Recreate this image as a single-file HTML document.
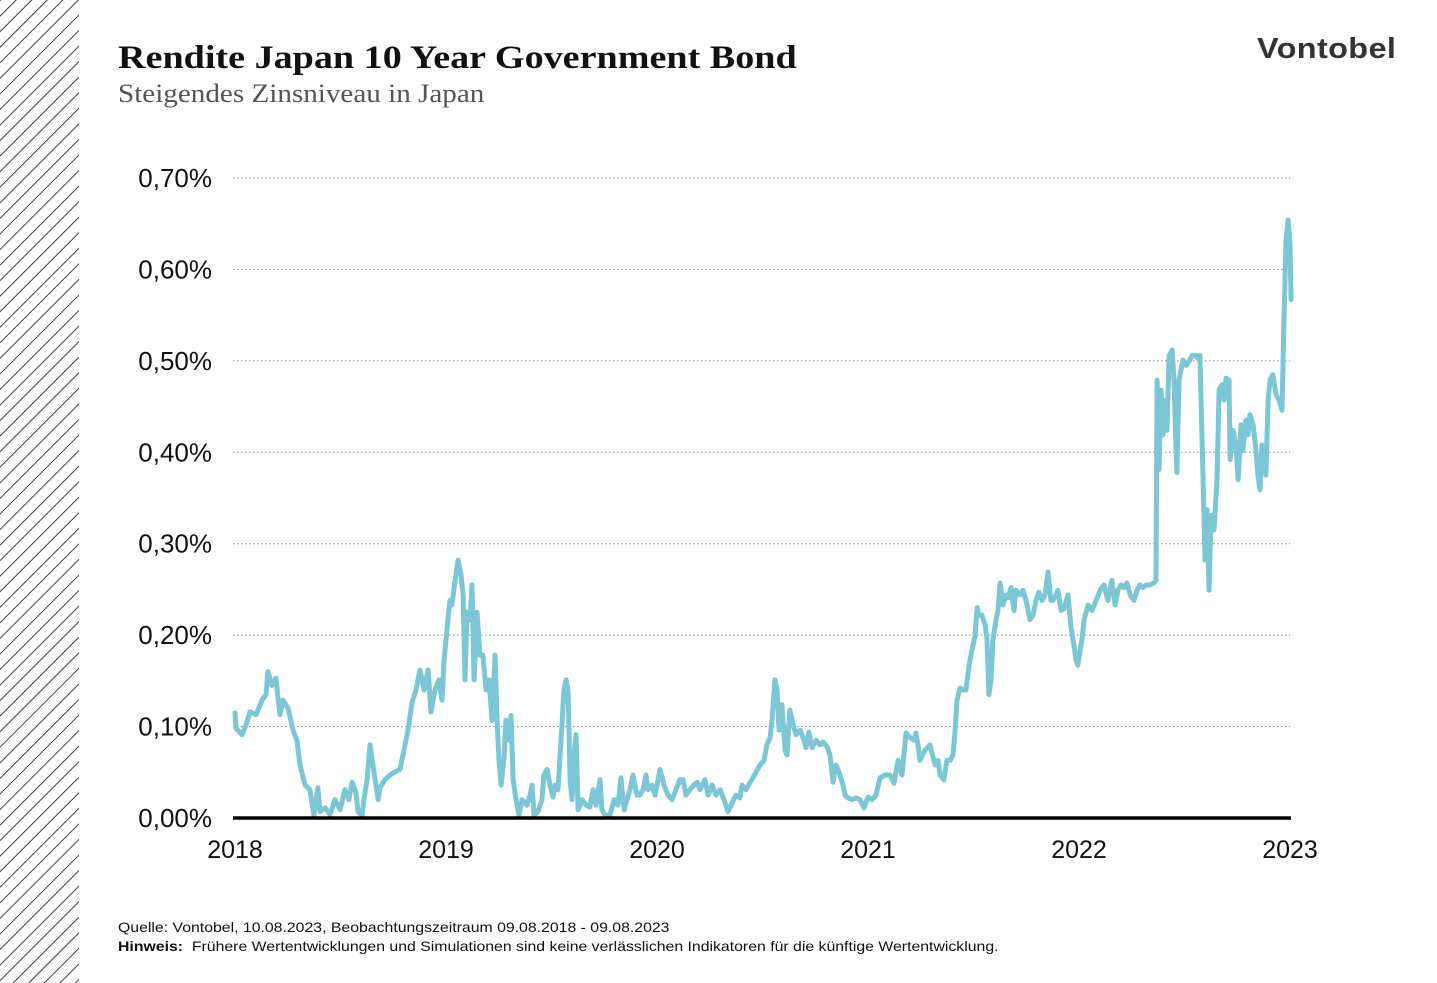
<!DOCTYPE html>
<html><head><meta charset="utf-8"><style>
html,body{margin:0;padding:0;background:#fff;}
body{width:1437px;height:983px;position:relative;overflow:hidden;font-family:"Liberation Sans",sans-serif;}
.abs{position:absolute;white-space:nowrap;}
</style></head><body>
<svg class="abs" style="left:0;top:0" width="80" height="983">
<defs><pattern id="h" width="11" height="11" patternUnits="userSpaceOnUse" patternTransform="rotate(45)"><line x1="0" y1="0" x2="0" y2="11" stroke="#111" stroke-width="1.6"/></pattern></defs>
<rect x="0" y="0" width="79" height="983" fill="url(#h)"/></svg>
<div class="abs" style="left:118px;top:40px;font-family:'Liberation Serif',serif;font-weight:bold;font-size:33px;color:#111;transform:scaleX(1.155);transform-origin:0 0;">Rendite Japan 10 Year Government Bond</div>
<div class="abs" style="left:118px;top:79px;font-family:'Liberation Serif',serif;font-size:26px;color:#555;transform:scaleX(1.12);transform-origin:0 0;">Steigendes Zinsniveau in Japan</div>
<div class="abs" style="left:1257px;top:33px;font-weight:bold;font-size:29px;color:#333;letter-spacing:0.3px;transform:scaleX(1.12);transform-origin:0 0;">Vontobel</div>
<svg class="abs" id="chart" style="left:0;top:0" width="1437" height="983"></svg>
<div class="abs" style="left:118px;top:919px;font-size:14px;color:#111;transform:scaleX(1.13);transform-origin:0 0;">Quelle: Vontobel, 10.08.2023, Beobachtungszeitraum 09.08.2018 - 09.08.2023</div>
<div class="abs" style="left:118px;top:938px;font-size:14px;color:#111;transform:scaleX(1.13);transform-origin:0 0;"><b>Hinweis:</b>&nbsp; Frühere Wertentwicklungen und Simulationen sind keine verlässlichen Indikatoren für die künftige Wertentwicklung.</div>
<script>
const yTicks=[0,0.1,0.2,0.3,0.4,0.5,0.6,0.7];
const yTickLabels=["0,00%","0,10%","0,20%","0,30%","0,40%","0,50%","0,60%","0,70%"];
const xTicks=[2018,2019,2020,2021,2022,2023];
const xTickLabels=["2018","2019","2020","2021","2022","2023"];
const dates=[
2018.000,2018.005,2018.033,2018.052,2018.071,2018.100,2018.128,2018.147,2018.156,2018.175,2018.194,2018.213,2018.227,2018.251,2018.275,2018.294,2018.308,2018.332,2018.355,2018.374,2018.393,2018.403,2018.427,2018.450,2018.474,2018.498,2018.521,2018.540,2018.555,2018.573,2018.583,2018.602,2018.611,2018.626,2018.640,2018.664,2018.678,2018.687,2018.711,2018.735,2018.754,2018.782,2018.801,2018.820,2018.839,2018.858,2018.877,2018.896,2018.915,2018.929,2018.948,2018.967,2018.981,2018.991,2019.000,
2019.009,2019.019,2019.028,2019.043,2019.057,2019.071,2019.081,2019.090,2019.100,2019.114,2019.123,2019.133,2019.147,2019.161,2019.175,2019.190,2019.204,2019.218,2019.232,2019.242,2019.251,2019.261,2019.275,2019.284,2019.299,2019.308,2019.318,2019.332,2019.346,2019.360,2019.384,2019.398,2019.408,2019.417,2019.436,2019.455,2019.464,2019.479,2019.493,2019.507,2019.517,2019.531,2019.550,2019.559,2019.569,2019.578,2019.588,2019.597,2019.607,2019.616,2019.626,2019.645,2019.664,2019.682,2019.697,2019.711,2019.730,2019.739,2019.754,2019.777,2019.796,2019.815,2019.829,2019.844,2019.858,2019.872,2019.886,2019.905,2019.919,2019.934,2019.948,2019.957,2019.976,2019.991,
2020.014,2020.033,2020.052,2020.071,2020.090,2020.109,2020.123,2020.137,2020.156,2020.175,2020.190,2020.204,2020.227,2020.242,2020.261,2020.280,2020.299,2020.318,2020.336,2020.355,2020.374,2020.393,2020.403,2020.422,2020.441,2020.455,2020.469,2020.488,2020.507,2020.521,2020.536,2020.545,2020.559,2020.569,2020.578,2020.592,2020.607,2020.616,2020.630,2020.645,2020.659,2020.678,2020.697,2020.706,2020.720,2020.735,2020.754,2020.773,2020.787,2020.806,2020.820,2020.834,2020.848,2020.858,2020.882,2020.891,2020.905,2020.924,2020.943,2020.962,2020.981,2021.000,
2021.019,2021.038,2021.057,2021.081,2021.104,2021.123,2021.142,2021.161,2021.180,2021.199,2021.218,2021.227,2021.237,2021.246,2021.270,2021.294,2021.318,2021.332,2021.341,2021.360,2021.374,2021.389,2021.403,2021.412,2021.422,2021.436,2021.450,2021.464,2021.479,2021.493,2021.507,2021.517,2021.526,2021.540,2021.555,2021.564,2021.573,2021.583,2021.592,2021.607,2021.616,2021.626,2021.640,2021.654,2021.664,2021.678,2021.692,2021.701,2021.720,2021.735,2021.749,2021.768,2021.782,2021.796,2021.810,2021.825,2021.839,2021.853,2021.867,2021.877,2021.891,2021.900,2021.915,2021.929,2021.948,2021.962,2021.976,2021.986,2021.995,2022.005,2022.014,
2022.024,2022.043,2022.062,2022.081,2022.100,2022.118,2022.137,2022.156,2022.171,2022.185,2022.199,2022.213,2022.227,2022.242,2022.261,2022.275,2022.289,2022.303,2022.318,2022.336,2022.355,2022.365,2022.370,2022.379,2022.389,2022.398,2022.408,2022.417,2022.427,2022.441,2022.450,2022.460,2022.464,2022.474,2022.483,2022.493,2022.507,2022.521,2022.536,2022.555,2022.569,2022.573,2022.588,2022.597,2022.607,2022.616,2022.626,2022.640,2022.654,2022.664,2022.678,2022.687,2022.697,2022.711,2022.716,2022.730,2022.744,2022.754,2022.768,2022.777,2022.791,2022.801,2022.810,2022.825,2022.839,2022.848,2022.858,2022.867,2022.877,2022.886,2022.896,2022.905,2022.919,2022.934,2022.948,2022.962,2022.972,2022.981,2022.991,2023.000,2023.005];
const yields=[
0.115,0.098,0.091,0.102,0.116,0.113,0.129,0.135,0.160,0.145,0.153,0.113,0.129,0.120,0.096,0.085,0.058,0.036,0.031,0.003,0.033,0.007,0.011,0.004,0.020,0.009,0.031,0.020,0.039,0.028,0.007,0.003,0.020,0.042,0.080,0.042,0.020,0.033,0.042,0.047,0.050,0.053,0.074,0.096,0.126,0.140,0.162,0.140,0.162,0.116,0.140,0.151,0.129,0.173,0.195,
0.217,0.238,0.233,0.260,0.282,0.266,0.244,0.151,0.225,0.217,0.255,0.151,0.225,0.178,0.178,0.140,0.151,0.107,0.178,0.107,0.063,0.036,0.066,0.107,0.085,0.112,0.042,0.020,0.003,0.020,0.014,0.025,0.036,0.003,0.007,0.020,0.047,0.053,0.036,0.023,0.036,0.031,0.102,0.140,0.151,0.140,0.042,0.020,0.069,0.091,0.009,0.020,0.014,0.012,0.031,0.014,0.042,0.009,0.003,0.003,0.020,0.014,0.044,0.009,0.020,0.031,0.047,0.025,0.025,0.031,0.047,0.031,0.036,0.025,
0.053,0.036,0.025,0.020,0.031,0.042,0.042,0.025,0.031,0.036,0.039,0.031,0.042,0.025,0.036,0.025,0.031,0.020,0.007,0.016,0.025,0.022,0.036,0.031,0.039,0.044,0.050,0.058,0.063,0.080,0.088,0.107,0.151,0.140,0.096,0.124,0.074,0.069,0.118,0.102,0.091,0.096,0.085,0.077,0.094,0.077,0.085,0.080,0.083,0.078,0.069,0.039,0.058,0.053,0.036,0.025,0.022,0.020,0.022,0.020,0.011,0.023,
0.020,0.025,0.044,0.047,0.047,0.038,0.063,0.047,0.093,0.088,0.085,0.093,0.080,0.063,0.074,0.080,0.058,0.063,0.047,0.042,0.063,0.063,0.069,0.093,0.129,0.142,0.140,0.140,0.167,0.184,0.199,0.230,0.222,0.222,0.211,0.195,0.135,0.151,0.195,0.217,0.227,0.257,0.233,0.244,0.241,0.252,0.227,0.249,0.244,0.249,0.238,0.217,0.222,0.238,0.247,0.238,0.244,0.269,0.238,0.238,0.244,0.249,0.227,0.229,0.244,0.208,0.189,0.173,0.167,0.184,0.195,
0.217,0.233,0.227,0.238,0.249,0.255,0.238,0.260,0.233,0.249,0.255,0.252,0.257,0.244,0.238,0.249,0.255,0.252,0.255,0.255,0.257,0.260,0.479,0.381,0.468,0.419,0.457,0.424,0.506,0.512,0.479,0.402,0.378,0.479,0.490,0.501,0.495,0.499,0.506,0.506,0.501,0.506,0.370,0.282,0.337,0.249,0.331,0.315,0.370,0.468,0.474,0.457,0.481,0.479,0.392,0.424,0.408,0.370,0.430,0.402,0.435,0.419,0.441,0.430,0.402,0.375,0.359,0.408,0.402,0.375,0.457,0.479,0.485,0.463,0.457,0.446,0.550,0.632,0.654,0.627,0.567];
const NS="http://www.w3.org/2000/svg";
const svg=document.getElementById('chart');
const X0=235,X1=1290,Y0=818,Y1=178;
const xScale=t=>X0+(t-2018)/5*(X1-X0);
const yScale=v=>Y0-v/0.7*(Y0-Y1);
function mk(tag,attrs){const e=document.createElementNS(NS,tag);for(const k in attrs)e.setAttribute(k,attrs[k]);svg.appendChild(e);return e;}
yTicks.forEach((v,i)=>{
  const y=yScale(v);
  if(v>0){const g=mk('line',{x1:233,x2:1290,y1:y,y2:y,stroke:'#888','stroke-width':1,'stroke-dasharray':'1.5,2.5'});
  
  }
  const t=mk('text',{x:212,y:y+9,'text-anchor':'end','font-size':26,fill:'#111','font-family':'Liberation Sans, sans-serif'});
  t.textContent=yTickLabels[i];
  
  
});
xTicks.forEach((v,i)=>{
  const t=mk('text',{x:xScale(v),y:858,'text-anchor':'middle','font-size':25,fill:'#111','font-family':'Liberation Sans, sans-serif'});
  t.textContent=xTickLabels[i];
  
  
});
const line=mk('polyline',{points:dates.map((d,i)=>xScale(d).toFixed(1)+','+yScale(yields[i]).toFixed(1)).join(' '),fill:'none',stroke:'#7cc6d6','stroke-width':5,'stroke-linejoin':'round','stroke-linecap':'round'});


const ax=mk('line',{x1:233,x2:1291,y1:Y0,y2:Y0,stroke:'#000','stroke-width':3.5});


</script>
</body></html>
